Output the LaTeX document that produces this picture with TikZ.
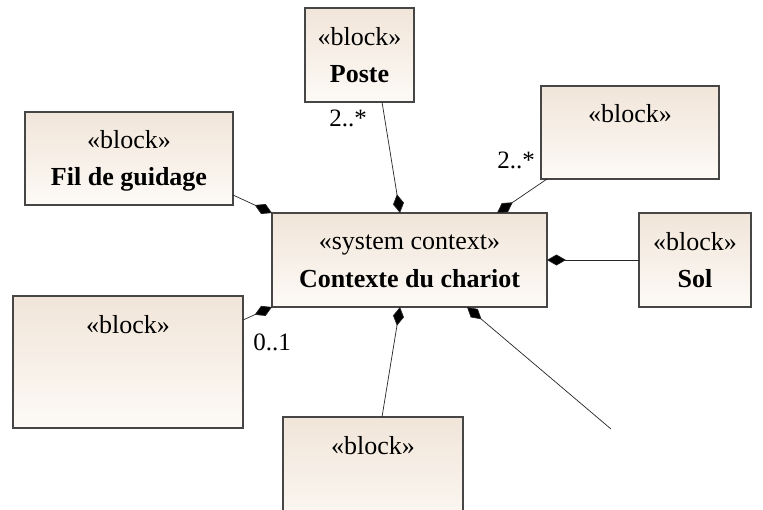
\documentclass[tikz,border=0pt]{standalone}
\usepackage{fontspec}
\setmainfont{Liberation Serif}
\usetikzlibrary{arrows.meta,calc}
\definecolor{boxtop}{RGB}{241,229,217}
\definecolor{boxbot}{RGB}{253,250,246}
\definecolor{boxline}{RGB}{70,70,70}
\tikzset{
  blockbox/.style={draw=boxline, line width=1.1pt, top color=boxtop, bottom color=boxbot,
    inner sep=0pt, outer sep=0pt, anchor=north west},
  stereo/.style={anchor=base, inner sep=0pt, font=\fontsize{26}{30}\selectfont},
  bname/.style={anchor=base, inner sep=0pt, font=\fontsize{26}{30}\selectfont\bfseries},
  mult/.style={anchor=center, inner sep=0pt, font=\fontsize{25}{29}\selectfont},
  comp/.style={draw=black!85, line width=0.7pt, -{Diamond[length=19pt,width=11pt,fill=black]}},
  compr/.style={draw=black!85, line width=0.7pt, {Diamond[length=19pt,width=11pt,fill=black]}-}
}
\begin{document}
\begin{tikzpicture}[x=1pt,y=-1pt]
\useasboundingbox (0,0) rectangle (763,509);
\clip (0,0) rectangle (763,509);
\fill[white] (0,0) rectangle (763,509);
% boxes
\node[blockbox, minimum width=275pt, minimum height=94pt] (main) at (272,213) {};
\node[blockbox, minimum width=109pt, minimum height=94pt] (poste) at (305,8) {};
\node[blockbox, minimum width=208pt, minimum height=93pt] (fil) at (25,112) {};
\node[blockbox, minimum width=178pt, minimum height=93pt] (tr) at (541,86) {};
\node[blockbox, minimum width=112pt, minimum height=94pt] (sol) at (639,213) {};
\node[blockbox, minimum width=230pt, minimum height=132pt] (bl) at (13,296) {};
\node[blockbox, minimum width=180pt, minimum height=120pt] (bot) at (283,417) {};
% texts
\node[stereo] (mainst) at ([yshift=-36pt]main.north) {«system context»};
\node[bname] (mainnm) at ([yshift=-74pt]main.north) {Contexte du chariot};
\node[stereo] (postest) at ([yshift=-37pt]poste.north) {«block»};
\node[bname] (postenm) at ([yshift=-74pt]poste.north) {Poste};
\node[stereo] (filst) at ([yshift=-36pt]fil.north) {«block»};
\node[bname] (filnm) at ([yshift=-73pt]fil.north) {Fil de guidage};
\node[stereo] (trst) at ([yshift=-36pt]tr.north) {«block»};
\node[stereo] (solst) at ([yshift=-37pt]sol.north) {«block»};
\node[bname] (solnm) at ([yshift=-74pt]sol.north) {Sol};
\node[stereo] (blst) at ([yshift=-37pt]bl.north) {«block»};
\node[stereo] (botst) at ([yshift=-37pt]bot.north) {«block»};
% connectors
\draw[comp] ([xshift=22.5pt]poste.south) -- ([xshift=-9.5pt]main.north);
\draw[comp] ([yshift=10pt]fil.south east) -- (main.north west);
\draw[comp] ([xshift=6pt]tr.south west) -- ([xshift=-50pt]main.north east);
\draw[comp] (sol.west) -- (main.east);
\draw[comp] ([yshift=-24pt]bl.north east) -- (main.south west);
\draw[comp] ([xshift=9pt]bot.north) -- ([xshift=-9.5pt]main.south);
\coordinate (freeend) at (611,429);
\draw[compr] ([xshift=57.5pt]main.south) -- (freeend);
% multiplicities
\node[mult] (m1) at (348,118) {2..*};
\node[mult] (m2) at (516,160) {2..*};
\node[mult] (m3) at (272,342) {0..1};
\end{tikzpicture}
\end{document}
